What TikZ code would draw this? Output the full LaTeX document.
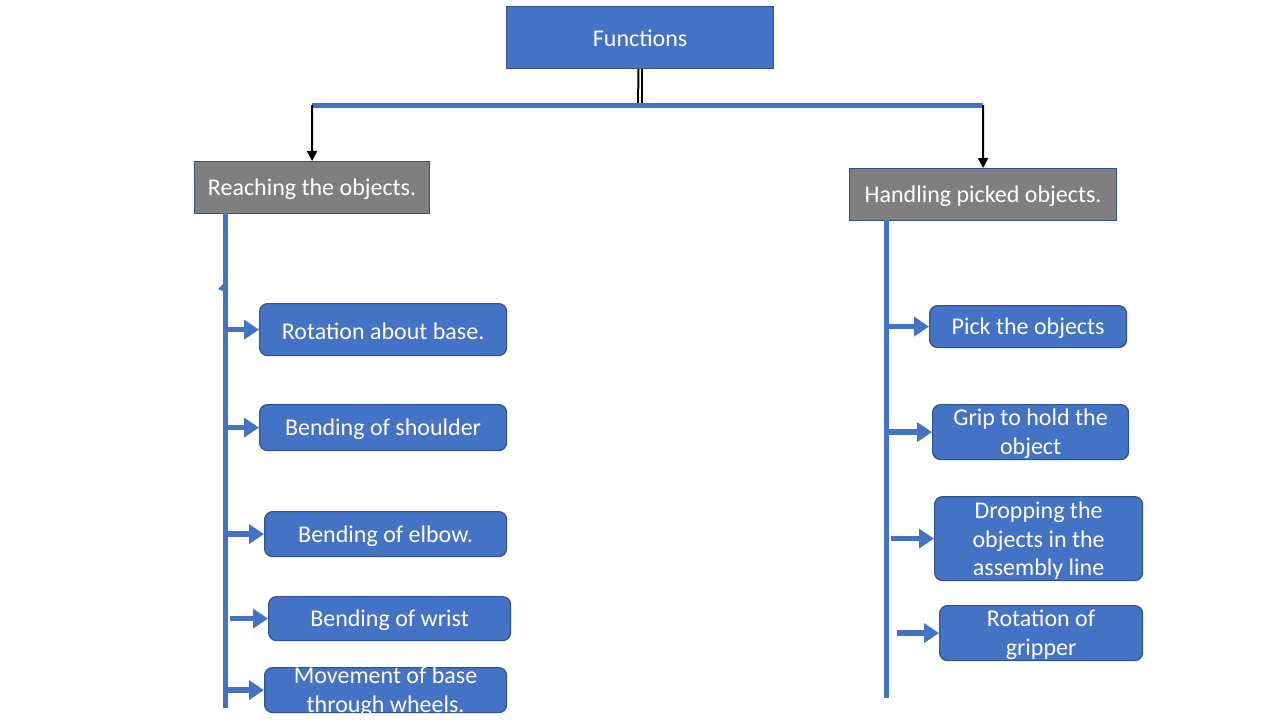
\documentclass[tikz,border=0pt]{standalone}
\usepackage{fontspec}
\setmainfont{Carlito}
\usetikzlibrary{arrows.meta}
\definecolor{boxblue}{HTML}{4472C4}
\definecolor{boxedge}{HTML}{2F528F}
\definecolor{boxgray}{HTML}{7F7F7F}
\begin{document}
\begin{tikzpicture}[x=1pt,y=-1pt,
  lab/.style={text=white,align=center,font=\fontsize{24}{28.8}\selectfont,inner sep=0pt,yshift=-2pt},
  base/.style={anchor=north west,inner sep=0pt,draw=boxedge,line width=1.2pt},
  topbox/.style={base,fill=boxblue},
  headbox/.style={base,fill=boxgray},
  leaf/.style={base,fill=boxblue,rounded corners=8pt},
  bus/.style={draw=boxblue,line width=5pt},
  barrow/.style={draw=boxblue,line width=5.5pt,-{Triangle[length=15pt,width=19pt]}},
  karrow/.style={draw=black,line width=2pt,-{Triangle[length=10pt,width=10pt]}}]
\useasboundingbox (0,0) rectangle (1280,720);
\fill[white] (0,0) rectangle (1280,720);

% top
\node[topbox,minimum width=267pt,minimum height=62pt,label={[lab,yshift=1pt]center:Functions}] (fun) at (506,6) {};
\coordinate (bm) at (640,104);
\coordinate (bl) at (312,105);
\coordinate (br) at (983,105);
\draw[draw=black,line width=2pt,double=white,double distance=1.6pt] (fun.south) -- (bm);
\draw[bus] (bl) -- (br);

% heads
\node[headbox,minimum width=235pt,minimum height=52pt,label={[lab]center:Reaching the objects.}] (reach) at (194,161) {};
\node[headbox,minimum width=267pt,minimum height=52pt,label={[lab]center:Handling picked objects.}] (hand) at (849,168) {};
\draw[karrow] (bl) -- (reach.north);
\draw[karrow] (br) -- (hand.north);

% vertical lines
\coordinate (lvtop) at (225,213);
\coordinate (lvbot) at (225,708);
\coordinate (rvtop) at (886,220);
\coordinate (rvbot) at (886,698);
\draw[bus] (lvtop) -- (lvbot);
\draw[bus] (rvtop) -- (rvbot);
\fill[boxblue] (218,289) -- (225,282) -- (225,292) -- cycle;

% left leaves
\node[leaf,minimum width=247pt,minimum height=52pt,label={[lab]center:Rotation about base.}] (l1) at (259,303) {};
\node[leaf,minimum width=247pt,minimum height=46pt,label={[lab]center:Bending of shoulder}] (l2) at (259,404) {};
\node[leaf,minimum width=242pt,minimum height=45pt,label={[lab]center:Bending of elbow.}] (l3) at (264,511) {};
\node[leaf,minimum width=242pt,minimum height=44pt,label={[lab]center:Bending of wrist}] (l4) at (268,596) {};
\node[leaf,minimum width=242pt,minimum height=45pt] (l5) at (264,667) {};
\begin{scope}
\clip (264,667) rectangle (506,712);
\node[lab,anchor=center] (l5t) at (l5.center) {Movement of base\\through wheels.};
\end{scope}

\draw[barrow] (lvtop |- l1.west) -- (l1.west);
\draw[barrow] (lvtop |- l2.west) -- (l2.west);
\draw[barrow] (lvtop |- l3.west) -- (l3.west);
\draw[barrow] ([xshift=5pt]lvtop |- l4.west) -- (l4.west);
\draw[barrow] (lvtop |- l5.west) -- (l5.west);

% right leaves
\node[leaf,minimum width=197pt,minimum height=42pt,label={[lab]center:Pick the objects}] (r1) at (929,305) {};
\node[leaf,minimum width=196pt,minimum height=55pt,label={[lab]center:Grip to hold the\\object}] (r2) at (932,404) {};
\node[leaf,minimum width=208pt,minimum height=84pt,label={[lab]center:Dropping the\\objects in the\\assembly line}] (r3) at (934,496) {};
\node[leaf,minimum width=203pt,minimum height=55pt,label={[lab]center:Rotation of\\gripper}] (r4) at (939,605) {};

\draw[barrow] (rvtop |- r1.west) -- (r1.west);
\draw[barrow] (rvtop |- r2.west) -- (r2.west);
\draw[barrow] ([xshift=5pt]rvtop |- r3.west) -- (r3.west);
\draw[barrow] ([xshift=11pt]rvtop |- r4.west) -- (r4.west);
\end{tikzpicture}
\end{document}
